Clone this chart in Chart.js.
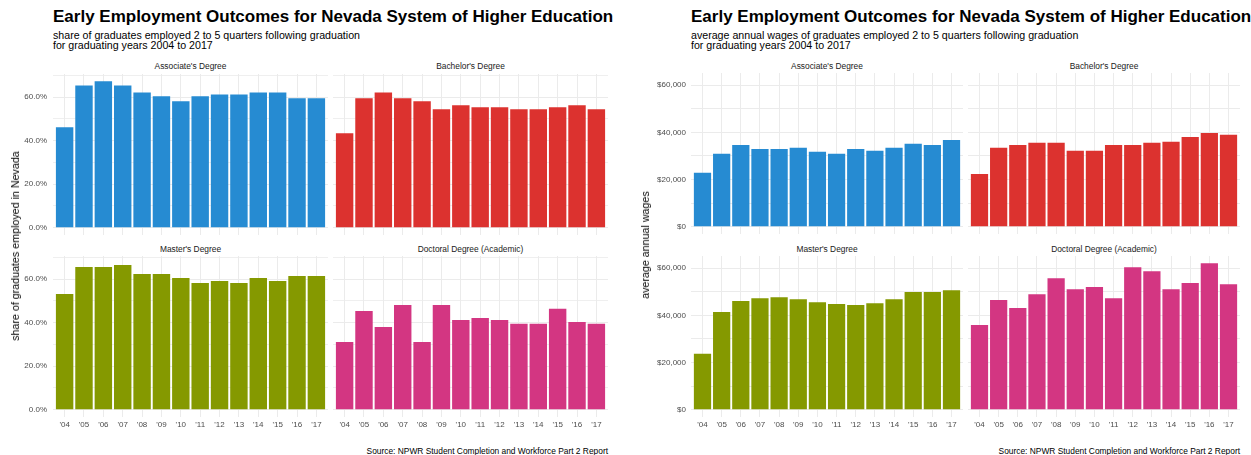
<!DOCTYPE html>
<html><head><meta charset="utf-8">
<script src="https://cdn.jsdelivr.net/npm/chart.js@4.4.1/dist/chart.umd.min.js"></script>
<style>
html,body{margin:0;padding:0;background:#fff;}
#root{position:relative;width:1251px;height:455px;overflow:hidden;font-family:'Liberation Sans',Arial,sans-serif;background:#fff;}
.t{position:absolute;white-space:nowrap;}
.title{font-weight:bold;font-size:17px;line-height:17px;color:#000;}
.sub{font-size:10.65px;line-height:10.3px;color:#000;}
.strip{font-size:8.4px;line-height:10px;color:#1a1a1a;transform:translate(-50%,-50%);}
.ytitle{font-size:10.7px;line-height:12px;color:#000;transform:translate(-50%,-50%) rotate(-90deg);}
.src{font-size:8.4px;line-height:10px;color:#000;transform:translate(-100%,-50%);}
canvas{position:absolute;}
</style>
</head>
<body>
<div id="root"></div>
<script>
// ---------- data ----------
const years = ["'04","'05","'06","'07","'08","'09","'10","'11","'12","'13","'14","'15","'16","'17"];
const degrees = ["Associate's Degree","Bachelor's Degree","Master's Degree","Doctoral Degree (Academic)"];
const colors = ['#268bd2','#dc322f','#859900','#d33682'];

// share of graduates employed in Nevada (%)
const assocShare = [46.1, 65.3, 67.2, 65.3, 62.1, 60.3, 58.0, 60.3, 61.2, 61.2, 62.1, 62.1, 59.4, 59.4];
const bachShare  = [43.4, 59.4, 62.1, 59.4, 58.0, 54.4, 56.2, 55.3, 55.3, 54.4, 54.4, 55.3, 56.2, 54.4];
const mastShare  = [53.1, 65.5, 65.5, 66.4, 62.3, 62.3, 60.5, 58.2, 59.1, 58.2, 60.5, 59.1, 61.4, 61.4];
const docShare   = [31.1, 45.3, 38.0, 48.1, 31.1, 48.1, 41.2, 42.1, 41.2, 39.4, 39.4, 46.3, 40.3, 39.4];

// average annual wages ($)
const assocWage = [22900, 30900, 34700, 33000, 33000, 33500, 31800, 30900, 33000, 32200, 33500, 35200, 34700, 36800];
const bachWage  = [22400, 33500, 34700, 35600, 35600, 32200, 32200, 34700, 34700, 35600, 36000, 38100, 39800, 39000];
const mastWage  = [23700, 41400, 46100, 47300, 47700, 46900, 45600, 44800, 44400, 45200, 46900, 49900, 49900, 50700];
const docWage   = [35900, 46500, 43100, 49000, 55800, 51100, 52000, 47300, 60400, 58700, 51100, 53700, 62100, 53200];

const shareTicks = [0, 10, 20, 30, 40, 50, 60, 70];
const wageTicks  = [0, 10000, 20000, 30000, 40000, 50000, 60000, 70000];

const title = 'Early Employment Outcomes for Nevada System of Higher Education';
const subShare = ['share of graduates employed 2 to 5 quarters following graduation','for graduating years 2004 to 2017'];
const subWage  = ['average annual wages of graduates employed 2 to 5 quarters following graduation','for graduating years 2004 to 2017'];
const ytitleShare = 'share of graduates employed in Nevada';
const ytitleWage = 'average annual wages';
const source = 'Source: NPWR Student Completion and Workforce Part 2 Report';

// ---------- drawing ----------
Chart.defaults.font.family = "'Liberation Sans', Arial, sans-serif";
const root = document.getElementById('root');
function txt(cls, text, x, y) {
  const d = document.createElement('div');
  d.className = 't ' + cls;
  d.style.left = x + 'px'; d.style.top = y + 'px';
  d.innerHTML = text;
  root.appendChild(d);
  return d;
}

function panel(left, top, w, h, yw, xh, vals, color, yr, ticksArr, fmt, showY, showX, ypad) {
  const c = document.createElement('canvas');
  const cw = w + yw, ch = h + xh;
  c.width = cw; c.height = ch;
  c.style.left = (left - yw) + 'px'; c.style.top = top + 'px';
  c.style.width = cw + 'px'; c.style.height = ch + 'px';
  root.appendChild(c);
  new Chart(c, {
    type: 'bar',
    data: { datasets: [{
      data: vals.map((v, i) => ({ x: i + 1, y: v })),
      backgroundColor: color, borderWidth: 0,
      categoryPercentage: 1, barPercentage: 0.9
    }]},
    options: {
      responsive: false, animation: false, events: [],
      layout: { padding: 0 },
      plugins: { legend: { display: false }, tooltip: { enabled: false }, title: { display: false } },
      scales: {
        x: {
          type: 'linear', min: 0.4, max: years.length + 0.6, offset: false,
          afterBuildTicks: s => { s.ticks = years.map((_, i) => ({ value: i + 1 })); },
          ticks: { display: showX, autoSkip: false, maxRotation: 0, padding: 3,
                   font: { size: 8 }, color: '#4d4d4d',
                   callback: v => years[Math.round(v) - 1] || '' },
          grid: { color: '#ebebeb', lineWidth: 1, drawTicks: false, offset: false },
          border: { display: false },
          afterFit: s => { s.height = xh; s.paddingLeft = 0; s.paddingRight = 0; }
        },
        y: {
          type: 'linear', min: yr[0], max: yr[1],
          afterBuildTicks: s => { s.ticks = ticksArr.filter(v => v <= yr[1]).map(v => ({ value: v })); },
          ticks: { display: showY, padding: ypad, font: { size: 8 }, color: '#4d4d4d', callback: fmt },
          grid: { color: '#ebebeb', lineWidth: ctx => (ctx.tick && (ctx.tick.value % 20 === 0 || ctx.tick.value % 20000 === 0)) ? 1 : 0.8, drawTicks: false },
          border: { display: false },
          afterFit: s => { s.width = yw; s.paddingTop = 0; s.paddingBottom = 0; }
        }
      }
    }
  });
}

function figure(cols, rows, series, ticksArr, fmt, subtitle, ytitle, ypad, yw, yTitleX) {
  const all = series.flat();
  const mx = Math.max(...all);
  const yr = [-0.05 * mx, 1.05 * mx];
  txt('title', title, cols[0].l, 8.3);
  txt('sub', subtitle.join('<br>'), cols[0].l, 30.2);
  for (let r = 0; r < 2; r++) {
    for (let k = 0; k < 2; k++) {
      const idx = r * 2 + k;
      const col = cols[k], row = rows[r];
      txt('strip', degrees[idx], col.l + col.w / 2, row.s);
      panel(col.l, row.t, col.w, row.h, k === 0 ? yw : 0, r === 1 ? 20 : 0,
            series[idx], colors[idx], yr, ticksArr, fmt, k === 0, r === 1, ypad);
    }
  }
  txt('ytitle', ytitle, yTitleX, (rows[0].t + rows[1].t + rows[1].h) / 2);
  txt('src', source, cols[1].l + cols[1].w, 450.7);
}

figure(
  [{ l: 53, w: 275 }, { l: 333, w: 275 }],
  [{ t: 74, h: 161, s: 66 }, { t: 256, h: 161, s: 249 }],
  [assocShare, bachShare, mastShare, docShare], shareTicks,
  v => (v % 20 === 0 ? v.toFixed(1) + '%' : ''),
  subShare, ytitleShare, 6, 53, 15);

figure(
  [{ l: 691, w: 272 }, { l: 968, w: 272 }],
  [{ t: 73, h: 161, s: 66 }, { t: 256, h: 161, s: 249 }],
  [assocWage, bachWage, mastWage, docWage], wageTicks,
  v => (v % 20000 === 0 ? '$' + v.toLocaleString('en-US') : ''),
  subWage, ytitleWage, 5, 60, 645);
</script>
</body></html>
